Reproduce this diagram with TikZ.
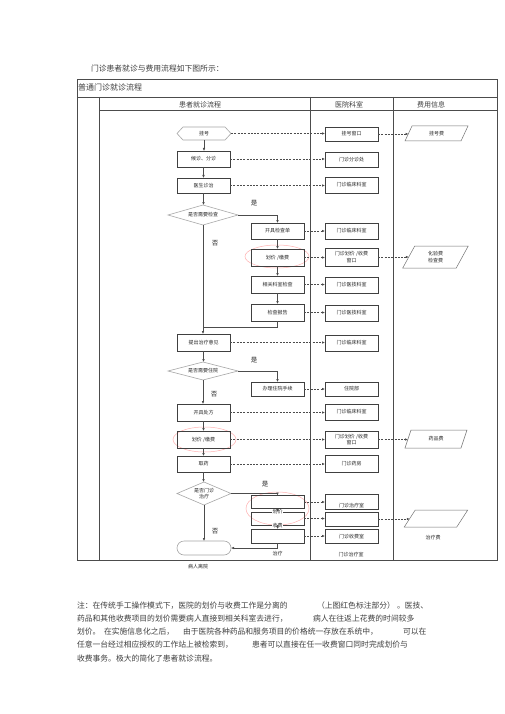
\documentclass[tikz,border=0pt]{standalone}
\usepackage{fontspec}
\setmainfont{Noto Sans CJK SC}
\usetikzlibrary{arrows.meta}
\newcommand\parall[2]{\draw[feeline] ([xshift=#2pt]#1.north west) -- ([xshift=#2pt]#1.north east) -- ([xshift=-#2pt]#1.south east) -- ([xshift=-#2pt]#1.south west) -- cycle;}
\newcommand\hexa[1]{\draw[softline] (#1.west) -- ([xshift=6pt]#1.north west) -- ([xshift=-6pt]#1.north east) -- (#1.east) -- ([xshift=-6pt]#1.south east) -- ([xshift=6pt]#1.south west) -- cycle;}
\newcommand\diam[1]{\draw[softline] (#1.north) -- (#1.east) -- (#1.south) -- (#1.west) -- cycle;}
\begin{document}
\begin{tikzpicture}[x=1pt,y=-1pt,
  every node/.style={inner sep=0pt,outer sep=0pt,text=black!85},
  sm/.style={font=\fontsize{5}{6.5}\selectfont},
  fbox/.style={sm,draw=black!75,line width=0.6pt,minimum width=53pt,align=center},
  plainn/.style={sm,align=center},
  lbl/.style={font=\fontsize{6.5}{7}\selectfont},
  note/.style={font=\fontsize{7.8}{9}\selectfont,anchor=west,text=black!75},
  hdr/.style={font=\fontsize{7}{9}\selectfont,text=black!75},
  tbl/.style={draw=black!70,line width=0.6pt},
  softline/.style={draw=black!35,line width=0.6pt},
  feeline/.style={draw=black!55,line width=0.5pt},
  redell/.style={draw=red!30,line width=0.5pt},
  flow/.style={draw=black!70,line width=0.55pt,-{Latex[length=3pt,width=2.6pt]}},
  plain/.style={draw=black!70,line width=0.55pt},
  dsh/.style={draw=black!70,line width=0.6pt,dash pattern=on 2pt off 1.3pt,-{Latex[length=3pt,width=2.6pt]}}
]
\fill[white] (0,0) rectangle (505,714);
\useasboundingbox (0,0) rectangle (505,714);

% title
\node[note] (title) at (91,69) {门诊患者就诊与费用流程如下图所示：};

% table
\draw[tbl] (77,79) rectangle (497,560);
\draw[tbl] (77,97) -- (497,97);
\draw[tbl] (99,110) -- (497,110);
\draw[tbl] (99,97) -- (99,560);
\draw[tbl] (310,97) -- (310,560);
\draw[tbl] (393,97) -- (393,560);
\node[font=\fontsize{8}{9}\selectfont,anchor=west,text=black!75] (hd) at (78,87.5) {普通门诊就诊流程};
\node[hdr] (c1) at (200,104.5) {患者就诊流程};
\node[hdr] (c2) at (349,104.5) {医院科室};
\node[hdr] (c3) at (431,104.5) {费用信息};

% red ellipses
\draw[redell] (277,256.5) ellipse [x radius=32, y radius=11.5];
\draw[redell] (204.5,439.5) ellipse [x radius=31.5, y radius=12.5];
\draw[redell] (277.5,508.5) ellipse [x radius=31.5, y radius=16.5];

% patient flow
\node[plainn,minimum width=54pt,minimum height=13pt] (reg) at (204,133.5) {挂号};
\hexa{reg}
\node[fbox,minimum height=16pt] (wait) at (203.5,159) {候诊、分诊};
\node[fbox,minimum height=15pt] (doc) at (203.5,185.5) {医生诊治};
\node[plainn,minimum width=70pt,minimum height=20pt] (q1) at (203,215) {是否需要检查};
\diam{q1}
\node[fbox,minimum height=16pt] (r1) at (277.5,231) {开具检查单};
\node[fbox,minimum height=17pt] (r2) at (277.5,257.5) {划价 /缴费};
\node[fbox,minimum height=17pt] (r3) at (277.5,284.5) {相关科室检查};
\node[fbox,minimum height=17pt] (r4) at (277.5,312.5) {检查报告};
\node[fbox,minimum height=17pt] (adv) at (203.5,342.5) {提出治疗意见};
\node[plainn,minimum width=70pt,minimum height=18pt] (q2) at (203,371) {是否需要住院};
\diam{q2}
\node[fbox,minimum height=14pt] (hosp) at (277.5,389) {办理住院手续};
\node[fbox,minimum height=17pt] (rx) at (203.5,412.5) {开具处方};
\node[fbox,minimum height=17pt] (pay) at (203.5,439.5) {划价 /缴费};
\node[fbox,minimum height=16pt] (med) at (203.5,464) {取药};
\node[plainn,minimum width=54pt,minimum height=23pt] (q3) at (204,493.5) {是否门诊\\治疗};
\diam{q3}
\node[fbox,minimum height=13pt] (t1) at (277.5,502) {};
\node[fbox,minimum height=13pt] (t2) at (277.5,518.5) {};
\node[fbox,minimum height=14pt] (t3) at (277.5,536) {};
\node[sm,draw=black!35,line width=0.6pt,rounded corners=7pt,minimum width=54pt,minimum height=14pt] (endn) at (204,548) {};

% departments
\node[fbox,minimum height=14pt] (d1) at (351.5,134) {挂号窗口};
\node[fbox,minimum height=15pt] (d2) at (351.5,159.5) {门诊分诊处};
\node[fbox,minimum height=16pt] (d3) at (351.5,185) {门诊临床科室};
\node[fbox,minimum height=16pt] (d4) at (351.5,231) {门诊临床科室};
\node[fbox,minimum height=18pt] (d5) at (351.5,257) {门诊划价 /收费\\窗口};
\node[fbox,minimum height=16pt] (d6) at (351.5,285) {门诊医技科室};
\node[fbox,minimum height=16pt] (d7) at (351.5,313) {门诊医技科室};
\node[fbox,minimum height=16pt] (d8) at (351.5,343) {门诊临床科室};
\node[fbox,minimum height=14pt] (d9) at (351.5,389) {住院部};
\node[fbox,minimum height=16pt] (d10) at (351.5,412) {门诊临床科室};
\node[fbox,minimum height=17pt] (d11) at (351.5,439.5) {门诊划价 /收费\\窗口};
\node[fbox,minimum height=17pt] (d12) at (351.5,463.5) {门诊药房};
\node[fbox,minimum height=15pt,label={[sm,anchor=south,yshift=1.2pt]south:门诊治疗室}] (d13) at (351.5,501.5) {};
\node[fbox,minimum height=14pt] (d14) at (351.5,519) {};
\node[fbox,minimum height=14pt] (d15) at (351.5,536.5) {门诊收费室};

% fees
\node[plainn,minimum width=56pt,minimum height=15pt] (f1) at (436.5,133.5) {挂号费};
\parall{f1}{3.5}
\node[plainn,minimum width=53.5pt,minimum height=22pt] (f2) at (435.5,257) {化验费\\检查费};
\parall{f2}{6}
\node[plainn,minimum width=56pt,minimum height=18pt] (f3) at (436,439) {药品费};
\parall{f3}{3}
\node[plainn,minimum width=52.5pt,minimum height=17pt] (f4) at (436,518.5) {};
\parall{f4}{5.5}

% loose texts
\node[sm,fill=white,inner sep=0.4pt] (tx1) at (277.5,512) {划价};
\node[sm,fill=white,inner sep=0.4pt] (tx2) at (277.5,525.5) {收费};
\node[sm] (tx3) at (277.5,554) {治疗};
\node[sm] (tx4) at (351,555) {门诊治疗室};
\node[sm] (tx5) at (433,538) {治疗费};
\node[sm] (tx6) at (198,567) {病人离院};

\node[lbl] (y1) at (254,203) {是};
\node[lbl] (n1) at (215,243) {否};
\node[lbl] (y2) at (254,360) {是};
\node[lbl] (n2) at (214,394) {否};
\node[lbl] (y3) at (265,484) {是};
\node[lbl] (n3) at (215,531) {否};

% solid connectors
\draw[flow] (reg.south) -- (reg.south |- wait.north);
\draw[flow] (wait) -- (doc);
\draw[flow] (doc.south) -- (doc.south |- q1.north);
\draw[flow] (q1.east) -| (r1.north);
\draw[flow] (r1) -- (r2);
\draw[flow] (r2) -- (r3);
\draw[flow] (r3) -- (r4);
\coordinate (j1) at (203,327);
\draw[plain] (r4.south) |- (j1);
\draw[flow] (q1.south) -- (q1.south |- adv.north);
\draw[flow] (adv.south) -- (adv.south |- q2.north);
\draw[flow] (q2.east) -| (hosp.north);
\draw[flow] (q2.south) -- (q2.south |- rx.north);
\draw[flow] (rx) -- (pay);
\draw[flow] (pay) -- (med);
\draw[flow] (med.south) -- (med.south |- q3.north);
\draw[flow] (q3.east) -| (t1.north);
\draw[flow] (t1) -- (t2);
\draw[flow] (t2) -- (t3);
\draw[flow] (q3.south) -- (q3.south |- endn.north);
\draw[flow] (t3.south) |- (endn.east);

% dashed connectors
\draw[dsh] (reg.east) -- (reg.east -| d1.west);
\draw[dsh] (wait.east) -- (wait.east -| d2.west);
\draw[dsh] (doc.east) -- (doc.east -| d3.west);
\draw[dsh] (r1.east) -- (r1.east -| d4.west);
\draw[dsh] (r2.east) -- (r2.east -| d5.west);
\draw[dsh] (r3.east) -- (r3.east -| d6.west);
\draw[dsh] (r4.east) -- (r4.east -| d7.west);
\draw[dsh] (adv.east) -- (adv.east -| d8.west);
\draw[dsh] (hosp.east) -- (hosp.east -| d9.west);
\draw[dsh] (rx.east) -- (rx.east -| d10.west);
\draw[dsh] (pay.east) -- (pay.east -| d11.west);
\draw[dsh] (med.east) -- (med.east -| d12.west);
\draw[dsh] (t1.east) -- (t1.east -| d13.west);
\draw[dsh] (t2.east) -- (t2.east -| d14.west);
\draw[dsh] (t3.east) -- (t3.east -| d15.west);
\draw[dsh] (d1.east) -- (d1.east -| f1.west);
\draw[dsh] (d5.east) -- (d5.east -| f2.west);
\draw[dsh] (d11.east) -- (d11.east -| f3.west);
\draw[dsh] (d14.east) -- (d14.east -| f4.west);

% note
\node[note] (l1a) at (77,606) {注：在传统手工操作模式下，医院的划价与收费工作是分离的};
\node[note] (l1b) at (317,606) {（上图红色标注部分）};
\node[note] (l1c) at (397,606) {。医技、};
\node[note] (l2a) at (77,619) {药品和其他收费项目的划价需要病人直接到相关科室去进行，};
\node[note] (l2b) at (313,619) {病人在往返上花费的时间较多};
\node[note] (l3a) at (77,632) {划价。};
\node[note] (l3b) at (104,632) {在实施信息化之后，};
\node[note] (l3c) at (183,632) {由于医院各种药品和服务项目的价格统一存放在系统中，};
\node[note] (l3d) at (403,632) {可以在};
\node[note] (l4a) at (77,645) {任意一台经过相应授权的工作站上被检索到，};
\node[note] (l4b) at (252,645) {患者可以直接在任一收费窗口同时完成划价与};
\node[note] (l5a) at (77,659) {收费事务。极大的简化了患者就诊流程。};
\end{tikzpicture}
\end{document}
